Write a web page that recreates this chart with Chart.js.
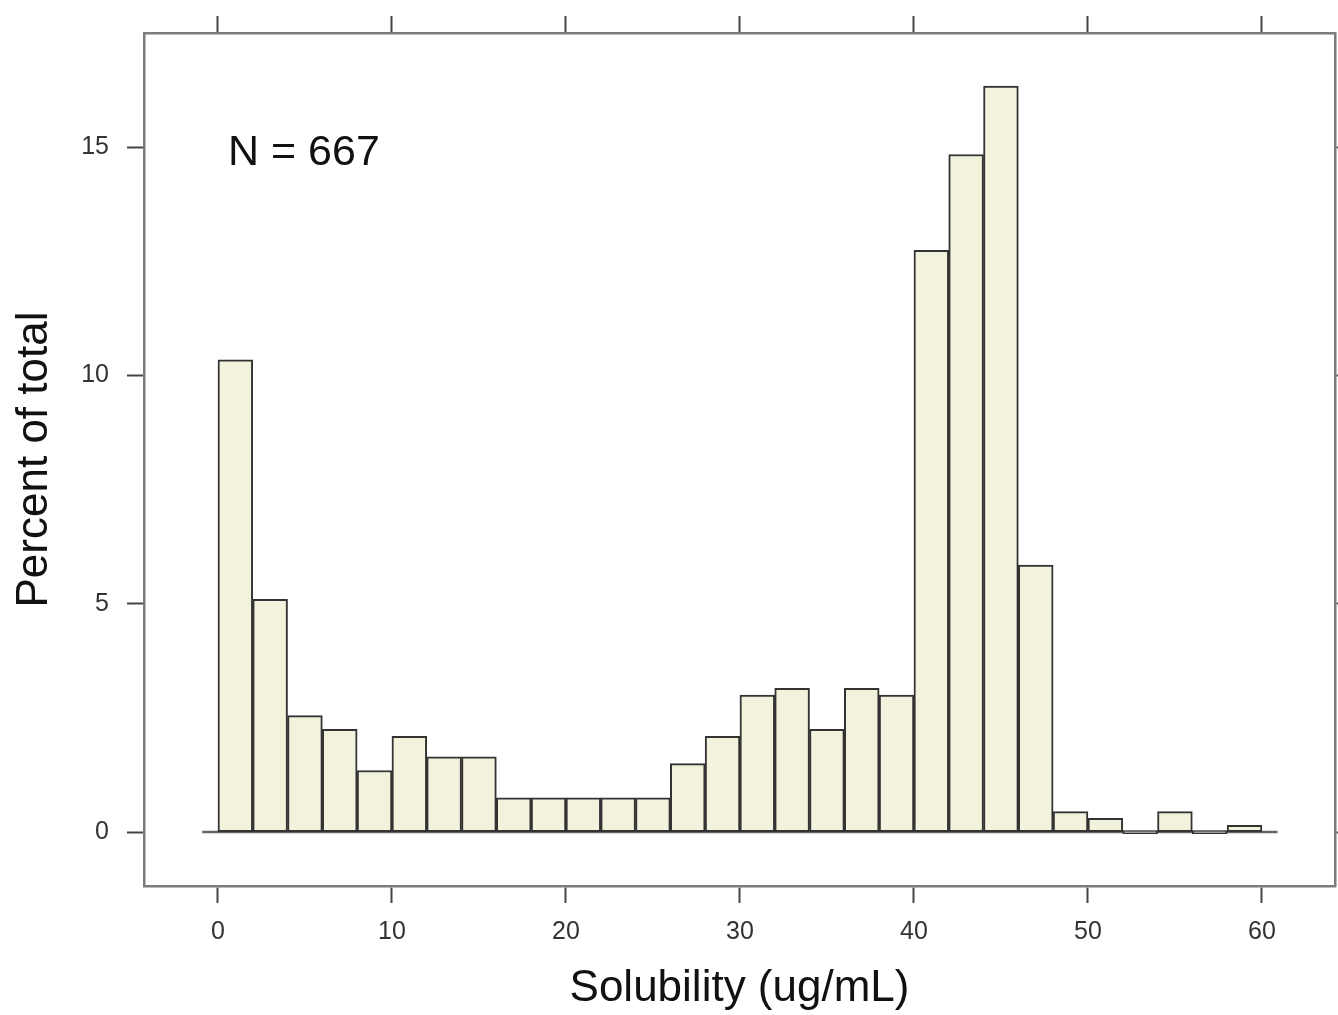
<!DOCTYPE html>
<html>
<head>
<meta charset="utf-8">
<script src="https://cdn.jsdelivr.net/npm/chart.js@4.4.0/dist/chart.umd.min.js"></script>
<style>
  html, body { margin: 0; padding: 0; background: #fff; }
  #wrap { width: 1338px; height: 1015px; }
</style>
</head>
<body>
<div id="wrap"><canvas id="histChart" width="1338" height="1015"></canvas></div>
<script>
// histogram bins are 2 ug/mL wide, from 0 to 60
const binCenters = [1, 3, 5, 7, 9, 11, 13, 15, 17, 19, 21, 23, 25, 27, 29,
                    31, 33, 35, 37, 39, 41, 43, 45, 47, 49, 51, 53, 55, 57, 59];
const percents = [10.34, 5.10, 2.55, 2.25, 1.35, 2.10, 1.65, 1.65, 0.75, 0.75,
                  0.75, 0.75, 0.75, 1.50, 2.10, 3.00, 3.15, 2.25, 3.15, 3.00,
                  12.74, 14.84, 16.34, 5.85, 0.45, 0.30, 0, 0.45, 0, 0.15];
const xTickValues = [0, 10, 20, 30, 40, 50, 60];
const yTickValues = [0, 5, 10, 15];
const xRange = [-4.25, 64.2];
const yRange = [-1.18, 17.5];
const baselineRange = [-0.9, 60.9];
const sampleLabel = "N = 667";

const fontFamily = '"Liberation Sans", Arial, Helvetica, sans-serif';
const barFill = "#f3f3dd", barEdge = "#333";
const frameColor = "#7c7c7c", tickColor = "#444";

function fixTicks(values) {
    return function(scale) {
        scale.ticks = values.map(v => ({ value: v }));
    };
}

function makeAxis(pos, values, range, showLabels, size, pad) {
    return {
        type: "linear",
        position: pos,
        min: range[0],
        max: range[1],
        offset: false,
        afterBuildTicks: fixTicks(values),
        afterFit: function(scale) {
            if (pos === "top" || pos === "bottom") scale.height = size;
            else scale.width = size;
        },
        grid: {
            offset: false,
            drawOnChartArea: false,
            drawTicks: true,
            tickLength: 17,
            tickWidth: 2,
            tickColor: tickColor
        },
        border: { display: true, color: frameColor, width: 2.5 },
        ticks: {
            display: showLabels,
            padding: pad,
            color: "#333",
            font: { family: fontFamily, size: 25 },
            maxRotation: 0,
            autoSkip: false
        }
    };
}

// N label in the upper left corner of the panel
const sampleNote = {
    id: "sampleNote",
    afterDatasetsDraw(chart) {
        const ctx = chart.ctx, area = chart.chartArea;
        ctx.save();
        ctx.font = "43px " + fontFamily;
        ctx.fillStyle = "#111";
        ctx.textBaseline = "alphabetic";
        ctx.textAlign = "left";
        ctx.fillText(sampleLabel, area.left + 84, area.top + 132);
        ctx.restore();
    }
};

var xAxis = makeAxis("bottom", xTickValues, xRange, true, 129, 14);
xAxis.title = {
    display: true,
    text: "Solubility (ug/mL)",
    color: "#111",
    font: { family: fontFamily, size: 44 },
    padding: { top: 0, bottom: 0 }
};
var yAxis = makeAxis("left", yTickValues, yRange, true, 144, 18);
yAxis.title = {
    display: true,
    text: "Percent of total",
    color: "#111",
    font: { family: fontFamily, size: 44 },
    padding: { top: 8, bottom: 0 }
};
var xTop = makeAxis("top", xTickValues, xRange, false, 33, 0);
var yRight = makeAxis("right", yTickValues, yRange, false, 3, 0);

var config = {
    type: "bar",
    data: {
        datasets: [{
            type: "bar",
            label: "Percent",
            data: binCenters.map((c, i) => ({ x: c, y: percents[i] })),
            backgroundColor: barFill,
            borderColor: barEdge,
            borderWidth: 2,
            borderSkipped: false,
            minBarLength: 3,
            barPercentage: 1,
            categoryPercentage: 1,
            xAxisID: "x",
            yAxisID: "y",
            order: 1
        }, {
            type: "line",
            label: "baseline",
            data: baselineRange.map(v => ({ x: v, y: 0 })),
            borderColor: "#666",
            borderWidth: 2.5,
            pointRadius: 0,
            xAxisID: "x",
            yAxisID: "y",
            order: 2
        }]
    },
    options: {
        responsive: false,
        animation: false,
        devicePixelRatio: 1,
        layout: { padding: 0 },
        plugins: {
            legend: { display: false },
            tooltip: { enabled: false }
        },
        scales: {
            x: xAxis,
            y: yAxis,
            x2: xTop,
            y2: yRight
        }
    },
    plugins: [sampleNote]
};

new Chart(document.getElementById("histChart"), config);
</script>
</body>
</html>
